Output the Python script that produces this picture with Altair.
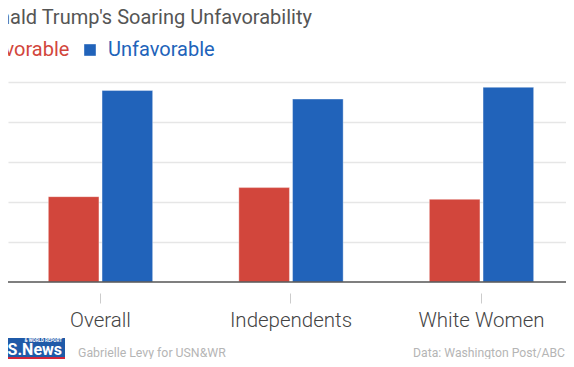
import altair as alt
import pandas as pd

groups = ["Overall", "Independents", "White Women"]
series = ["Favorable", "Unfavorable"]
favorable = [32.0, 35.4, 31.0]
unfavorable = [71.8, 68.6, 73.0]
grid_values = [15, 30, 45, 60, 75]
title_text = "Donald Trump's Soaring Unfavorability"
credit_text = "Gabrielle Levy for USN&WR"
source_text = "Data: Washington Post/ABC"

RED = "#d2463c"
BLUE = "#2163ba"
LEG_X = -53

rows = []
for g, f, u in zip(groups, favorable, unfavorable):
    rows.append({"group": g, "series": series[0], "value": f})
    rows.append({"group": g, "series": series[1], "value": u})
df = pd.DataFrame(rows)

bars = alt.Chart(df).mark_bar(stroke="white", strokeWidth=1, strokeOpacity=0.35).encode(
    x=alt.X(
        "group:N", sort=groups,
        scale=alt.Scale(paddingInner=0.4525, paddingOuter=0.1908, align=0.555),
        axis=alt.Axis(title=None, domain=False, ticks=True, tickColor="#cccccc",
                      tickSize=10, offset=11, labelFont="Roboto", labelFontSize=20.5,
                      labelFontWeight=300, labelColor="#444444", labelPadding=7,
                      labelAngle=0, grid=False),
    ),
    xOffset=alt.XOffset("series:N", sort=series, scale=alt.Scale(paddingInner=0.058)),
    y=alt.Y(
        "value:Q", scale=alt.Scale(domain=[0, 75], nice=False),
        axis=alt.Axis(title=None, values=grid_values, labels=False, ticks=False,
                      domain=False, grid=True, gridColor="#e6e6e6", gridWidth=1.5),
    ),
    color=alt.Color(
        "series:N", sort=series,
        scale=alt.Scale(domain=series, range=[RED, BLUE]),
        legend=alt.Legend(
            title=None, orient="none", legendX=LEG_X, legendY=-42,
            direction="horizontal", symbolType="square", symbolSize=135,
            symbolStrokeWidth=0, labelFont="Roboto", labelFontSize=20,
            labelOffset=8, columnPadding=10,
            labelColor=alt.ExprRef(expr=f"datum.label == '{series[0]}' ? '{RED}' : '{BLUE}'"),
        ),
    ),
)

baseline = alt.Chart(pd.DataFrame({"v": [0]})).mark_rule(
    color="#555555", strokeWidth=1.5
).encode(y="v:Q")

credit = alt.Chart(pd.DataFrame({"t": [credit_text]})).mark_text(
    align="left", baseline="middle", font="Roboto", fontSize=12.3, color="#b5b5b5"
).encode(text="t:N", x=alt.value(70), y=alt.value(270.5))

source = alt.Chart(pd.DataFrame({"t": [source_text]})).mark_text(
    align="right", baseline="middle", font="Roboto", fontSize=12.2, color="#b5b5b5"
).encode(text="t:N", x=alt.value(557), y=alt.value(270.5))

logo_bg = alt.Chart(pd.DataFrame({"k": [1]})).mark_rect(color="#1f5aa8").encode(
    x=alt.value(-8), x2=alt.value(57), y=alt.value(256), y2=alt.value(275)
)
logo_stripe = alt.Chart(pd.DataFrame({"k": [1]})).mark_rect(color="#d3273a").encode(
    x=alt.value(-8), x2=alt.value(57), y=alt.value(275), y2=alt.value(278)
)
logo_text = alt.Chart(pd.DataFrame({"t": ["U.S.News"]})).mark_text(
    align="right", baseline="alphabetic", font="Roboto", fontSize=16,
    fontWeight="bold", color="white"
).encode(text="t:N", x=alt.value(54), y=alt.value(273))
logo_small = alt.Chart(pd.DataFrame({"t": ["& WORLD REPORT"]})).mark_text(
    align="right", baseline="alphabetic", font="Roboto", fontSize=4.5,
    fontWeight="bold", color="white"
).encode(text="t:N", x=alt.value(54), y=alt.value(259.5))

chart = alt.layer(
    bars, baseline, credit, source, logo_bg, logo_stripe, logo_text, logo_small
).properties(
    width=558, height=200,
    autosize=alt.AutoSizeParams(type="none"),
    padding={"left": 0, "top": 74, "right": 0, "bottom": 77},
    title=alt.TitleParams(
        title_text, anchor="start", font="Roboto", fontSize=20,
        fontWeight="normal", color="#555555", dx=-33.5 - LEG_X, dy=-8,
    ),
).configure_view(stroke=None)

chart.save("out.html", embed_options={"renderer": "svg", "actions": False})
